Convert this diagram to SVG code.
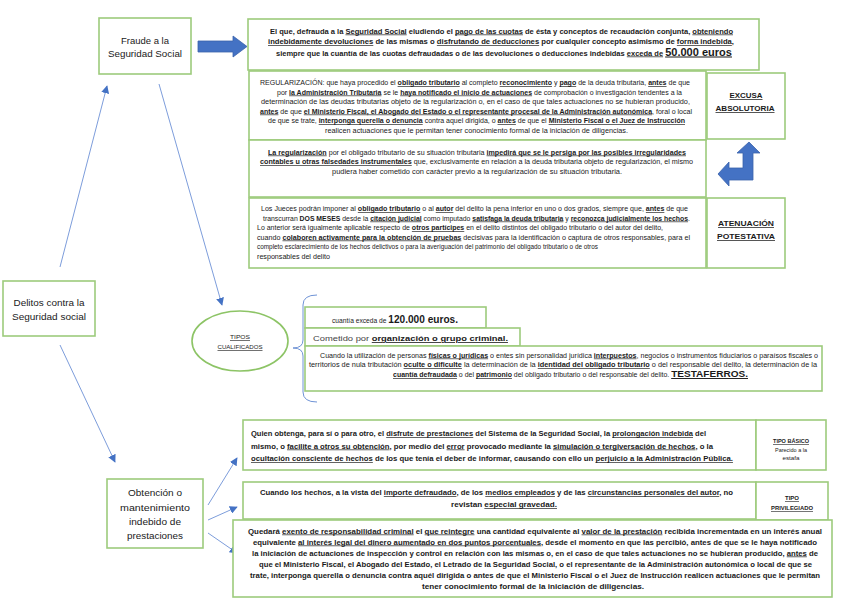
<svg xmlns="http://www.w3.org/2000/svg" width="848" height="599" viewBox="0 0 848 599">
<defs>
<style>
.box{fill:#fff;stroke:#9DCB7C;stroke-width:1.6}
.n{font-family:"Liberation Sans",Arial,sans-serif;font-size:9.5px;fill:#1a1a1a;text-anchor:middle}
.t{font-family:"Liberation Sans",Arial,sans-serif;font-size:6.6px;fill:#1a1a1a}
.tb{font-family:"Liberation Sans",Arial,sans-serif;font-size:6.8px;fill:#1a1a1a;font-weight:bold}
.c{text-anchor:middle}
.b{font-weight:bold}
.u{text-decoration:underline}
.lab{font-family:"Liberation Sans",Arial,sans-serif;font-size:7.4px;font-weight:bold;text-decoration:underline;fill:#1a1a1a;text-anchor:middle}
.con{stroke:#7D9DDB;stroke-width:1;fill:none}
.blk{fill:#4472C4;stroke:#3A62AB;stroke-width:0.8}
</style>
<marker id="ah" viewBox="0 0 10 10" refX="9" refY="5" markerWidth="8" markerHeight="8" orient="auto" markerUnits="userSpaceOnUse">
<path d="M0,0 L10,5 L0,10 z" fill="#4472C4"/>
</marker>
</defs>
<rect width="848" height="599" fill="#fff"/>

<g id="connectors">
<line class="con" x1="60" y1="267" x2="107" y2="86" marker-end="url(#ah)"/>
<line class="con" x1="159" y1="84" x2="222" y2="305" marker-end="url(#ah)"/>
<line class="con" x1="60" y1="345" x2="115" y2="462" marker-end="url(#ah)"/>
<line class="con" x1="208" y1="505" x2="237" y2="458" marker-end="url(#ah)"/>
<line class="con" x1="208" y1="520" x2="237" y2="507" marker-end="url(#ah)"/>
<line class="con" x1="208" y1="533" x2="237" y2="553" marker-end="url(#ah)"/>
<path d="M317,295 Q303,295 303,305 L303,340 Q303,348 293,348 Q303,348 303,356 L303,392 Q303,402 317,402" stroke="#6F93D6" stroke-width="1" fill="none"/>
<path class="blk" d="M198,41 L233,41 L233,36 L247,46.5 L233,57 L233,52 L198,52 z"/>
<path class="blk" d="M749,142 L760,153 L753,153 L753,180 L729,180 L729,186 L718,174 L729,162 L729,168 L743,168 L743,153 L737,153 z"/>
</g>

<g id="delitos">
<rect class="box" x="3" y="281" width="92" height="55"/>
<text class="n" x="49" y="306" textLength="71" lengthAdjust="spacingAndGlyphs">Delitos contra la</text>
<text class="n" x="49" y="320" textLength="74" lengthAdjust="spacingAndGlyphs">Seguridad social</text>
</g>

<g id="fraude">
<rect class="box" x="99" y="18" width="92" height="56"/>
<text class="n" x="145" y="44" textLength="48" lengthAdjust="spacingAndGlyphs">Fraude a la</text>
<text class="n" x="145" y="57" textLength="74" lengthAdjust="spacingAndGlyphs">Seguridad Social</text>
</g>

<g id="obtencion">
<rect class="box" x="107" y="479" width="96" height="69"/>
<text class="n" x="155" y="496" textLength="54" lengthAdjust="spacingAndGlyphs">Obtención o</text>
<text class="n" x="155" y="510.5" textLength="70" lengthAdjust="spacingAndGlyphs">mantenimiento</text>
<text class="n" x="155" y="524.5" textLength="52" lengthAdjust="spacingAndGlyphs">indebido de</text>
<text class="n" x="155" y="538.5" textLength="56" lengthAdjust="spacingAndGlyphs">prestaciones</text>
</g>

<g id="fraude-def">
<rect class="box" x="248" y="19" width="511" height="51"/>
<text class="tb" x="270" y="33.5" textLength="463" lengthAdjust="spacingAndGlyphs">El que, defrauda a la <tspan class="u">Seguridad Social</tspan> eludiendo el <tspan class="u">pago de las cuotas</tspan> de ésta y conceptos de recaudación conjunta, <tspan class="u">obteniendo</tspan></text>
<text class="tb" x="268" y="44" textLength="466" lengthAdjust="spacingAndGlyphs"><tspan class="u">indebidamente devoluciones</tspan> de las mismas o <tspan class="u">disfrutando de deducciones</tspan> por cualquier concepto asimismo de <tspan class="u">forma indebida</tspan>,</text>
<text class="tb" x="276" y="55.5" textLength="456" lengthAdjust="spacingAndGlyphs">siempre que la cuantía de las cuotas defraudadas o de las devoluciones o deducciones indebidas <tspan class="u">exceda de</tspan> <tspan class="u" style="font-size:10px">50.000 euros</tspan></text>
</g>

<g id="regularizacion">
<rect class="box" x="249" y="71" width="457" height="69"/>
<text class="t" x="260" y="85" textLength="430" lengthAdjust="spacingAndGlyphs">REGULARIZACIÓN: que haya procedido el <tspan class="b u">obligado tributario</tspan> al completo <tspan class="b u">reconocimiento</tspan> y <tspan class="b u">pago</tspan> de la deuda tributaria, <tspan class="b u">antes</tspan> de que</text>
<text class="t" x="277" y="94.5" textLength="405" lengthAdjust="spacingAndGlyphs">por <tspan class="b u">la Administración Tributaria</tspan> se le <tspan class="b u">haya notificado el inicio de actuaciones</tspan> de comprobación o investigación tendentes a la</text>
<text class="t" x="261" y="104" textLength="429" lengthAdjust="spacingAndGlyphs">determinación de las deudas tributarias objeto de la regularización o, en el caso de que tales actuaciones no se hubieran producido,</text>
<text class="t" x="260" y="113.5" textLength="432" lengthAdjust="spacingAndGlyphs"><tspan class="b u">antes</tspan> de que <tspan class="b u">el Ministerio Fiscal, el Abogado del Estado o el representante procesal de la Administración autonómica</tspan>, foral o local</text>
<text class="t" x="268" y="123" textLength="417" lengthAdjust="spacingAndGlyphs">de que se trate, <tspan class="b u">interponga querella o denuncia</tspan> contra aquel dirigida, o <tspan class="b u">antes</tspan> de que el <tspan class="b u">Ministerio Fiscal o el Juez de Instrucción</tspan></text>
<text class="t" x="325" y="132.5" textLength="303" lengthAdjust="spacingAndGlyphs">realicen actuaciones que le permitan tener conocimiento formal de la iniciación de diligencias.</text>
</g>

<g id="excusa">
<rect class="box" x="707" y="73" width="78" height="66"/>
<text class="lab" x="746" y="98" textLength="33" lengthAdjust="spacingAndGlyphs">EXCUSA</text>
<text class="lab" x="745" y="111" textLength="59" lengthAdjust="spacingAndGlyphs">ABSOLUTORIA</text>
</g>

<g id="regularizacion2">
<rect class="box" x="249" y="140" width="457" height="57"/>
<text class="t" x="268" y="154.5" textLength="418" lengthAdjust="spacingAndGlyphs"><tspan class="b u">La regularización</tspan> por el obligado tributario de su situación tributaria <tspan class="b u">impedirá que se le persiga por las posibles irregularidades</tspan></text>
<text class="t" x="260" y="164" textLength="433" lengthAdjust="spacingAndGlyphs"><tspan class="b u">contables u otras falsedades instrumentales</tspan> que, exclusivamente en relación a la deuda tributaria objeto de regularización, el mismo</text>
<text class="t" x="332" y="173.5" textLength="290" lengthAdjust="spacingAndGlyphs">pudiera haber cometido con carácter previo a la regularización de su situación tributaria.</text>
</g>

<g id="jueces">
<rect class="box" x="249" y="198" width="457" height="70"/>
<text class="t" x="261" y="211" textLength="427" lengthAdjust="spacingAndGlyphs">Los Jueces podrán imponer al <tspan class="b u">obligado tributario</tspan> o al <tspan class="b u">autor</tspan> del delito la pena inferior en uno o dos grados, siempre que, <tspan class="b u">antes</tspan> de que</text>
<text class="t" x="263" y="220.5" textLength="427" lengthAdjust="spacingAndGlyphs">transcurran <tspan class="b">DOS MESES</tspan> desde la <tspan class="b u">citación judicial</tspan> como imputado <tspan class="b u">satisfaga la deuda tributaria</tspan> y <tspan class="b u">reconozca judicialmente los hechos</tspan>.</text>
<text class="t" x="257" y="230" textLength="406" lengthAdjust="spacingAndGlyphs">Lo anterior será igualmente aplicable respecto de <tspan class="b u">otros partícipes</tspan> en el delito distintos del obligado tributario o del autor del delito,</text>
<text class="t" x="257" y="239.5" textLength="433" lengthAdjust="spacingAndGlyphs">cuando <tspan class="b u">colaboren activamente para la obtención de pruebas</tspan> decisivas para la identificación o captura de otros responsables, para el</text>
<text class="t" x="257" y="249" textLength="341" lengthAdjust="spacingAndGlyphs">completo esclarecimiento de los hechos delictivos o para la averiguación del patrimonio del obligado tributario o de otros</text>
<text class="t" x="257" y="258.5" textLength="73" lengthAdjust="spacingAndGlyphs">responsables del delito</text>
</g>

<g id="atenuacion">
<rect class="box" x="707" y="198" width="78" height="70"/>
<text class="lab" x="746" y="226" textLength="56" lengthAdjust="spacingAndGlyphs">ATENUACIÓN</text>
<text class="lab" x="746" y="239" textLength="58" lengthAdjust="spacingAndGlyphs">POTESTATIVA</text>
</g>

<g id="tipos">
<ellipse cx="240" cy="341" rx="48" ry="30" fill="#fff" stroke="#8DC466" stroke-width="1.6"/>
<text class="t c u" x="240" y="339" style="font-size:6.2px" textLength="20" lengthAdjust="spacingAndGlyphs">TIPOS</text>
<text class="t c u" x="240" y="349" style="font-size:6.2px" textLength="45" lengthAdjust="spacingAndGlyphs">CUALIFICADOS</text>
</g>

<g id="cuantia">
<rect class="box" x="305" y="307" width="181" height="21"/>
<text class="t" x="332" y="323" textLength="126" lengthAdjust="spacingAndGlyphs">cuantía exceda de <tspan class="b" style="font-size:10px">120.000 euros.</tspan></text>
</g>

<g id="organizacion">
<rect class="box" x="305" y="328" width="215" height="18"/>
<text class="t" x="313" y="341" style="font-size:8px;fill:#444" textLength="195" lengthAdjust="spacingAndGlyphs">Cometido por <tspan class="b u" style="fill:#1a1a1a">organización o grupo criminal.</tspan></text>
</g>

<g id="testaferros">
<rect class="box" x="305" y="346" width="517" height="45"/>
<text class="t" x="320" y="357.5" textLength="498" lengthAdjust="spacingAndGlyphs">Cuando la utilización de personas <tspan class="b u">físicas o jurídicas</tspan> o entes sin personalidad jurídica <tspan class="b u">interpuestos</tspan>, negocios o instrumentos fiduciarios o paraísos fiscales o</text>
<text class="t" x="309" y="367" textLength="508" lengthAdjust="spacingAndGlyphs">territorios de nula tributación <tspan class="b u">oculte o dificulte</tspan> la determinación de la <tspan class="b u">identidad del obligado tributario</tspan> o del responsable del delito, la determinación de la</text>
<text class="t" x="393" y="377" textLength="355" lengthAdjust="spacingAndGlyphs"><tspan class="b u">cuantía defraudada</tspan> o del <tspan class="b u">patrimonio</tspan> del obligado tributario o del responsable del delito. <tspan class="b u" style="font-size:9.5px">TESTAFERROS.</tspan></text>
</g>

<g id="basico">
<rect class="box" x="243" y="420" width="513" height="50"/>
<text class="tb" x="251" y="436" textLength="455" lengthAdjust="spacingAndGlyphs">Quien obtenga, para sí o para otro, el <tspan class="u">disfrute de prestaciones</tspan> del Sistema de la Seguridad Social, la <tspan class="u">prolongación indebida</tspan> del</text>
<text class="tb" x="251" y="448.5" textLength="462" lengthAdjust="spacingAndGlyphs">mismo, o <tspan class="u">facilite a otros su obtención</tspan>, por medio del <tspan class="u">error</tspan> provocado mediante la <tspan class="u">simulación o tergiversación de hechos</tspan>, o la</text>
<text class="tb" x="251" y="461" textLength="482" lengthAdjust="spacingAndGlyphs"><tspan class="u">ocultación consciente de hechos</tspan> de los que tenía el deber de informar, causando con ello un <tspan class="u">perjuicio a la Administración Pública.</tspan></text>
</g>

<g id="tipo-basico">
<rect class="box" x="756" y="420" width="70" height="50"/>
<text class="t c b u" x="791" y="443" style="font-size:6px" textLength="36" lengthAdjust="spacingAndGlyphs">TIPO BÁSICO</text>
<text class="t c" x="791" y="451.5" style="font-size:6px" textLength="32" lengthAdjust="spacingAndGlyphs">Parecido a la</text>
<text class="t c" x="791" y="460" style="font-size:6px" textLength="17" lengthAdjust="spacingAndGlyphs">estafa</text>
</g>

<g id="privilegiado">
<rect class="box" x="243" y="482" width="513" height="37"/>
<text class="tb" x="260" y="495" textLength="473" lengthAdjust="spacingAndGlyphs">Cuando los hechos, a la vista del <tspan class="u">importe defraudado</tspan>, de los <tspan class="u">medios empleados</tspan> y de las <tspan class="u">circunstancias personales del autor</tspan>, no</text>
<text class="tb" x="451" y="507" textLength="106" lengthAdjust="spacingAndGlyphs">revistan <tspan class="u">especial gravedad.</tspan></text>
</g>

<g id="tipo-privilegiado">
<rect class="box" x="756" y="482" width="72" height="38"/>
<text class="t c b u" x="792" y="500" style="font-size:6px" textLength="14" lengthAdjust="spacingAndGlyphs">TIPO</text>
<text class="t c b u" x="792" y="510" style="font-size:6px" textLength="42" lengthAdjust="spacingAndGlyphs">PRIVILEGIADO</text>
</g>

<g id="reintegro">
<rect class="box" x="233" y="520" width="599" height="77"/>
<text class="tb" x="248" y="533.5" textLength="574" lengthAdjust="spacingAndGlyphs">Quedará <tspan class="u">exento de responsabilidad criminal</tspan> el <tspan class="u">que reintegre</tspan> una cantidad equivalente al <tspan class="u">valor de la prestación</tspan> recibida incrementada en un interés anual</text>
<text class="tb" x="253" y="544.5" textLength="564" lengthAdjust="spacingAndGlyphs">equivalente <tspan class="u">al interés legal del dinero aumentado en dos puntos porcentuales</tspan>, desde el momento en que las percibió, antes de que se le haya notificado</text>
<text class="tb" x="252" y="555.5" textLength="566" lengthAdjust="spacingAndGlyphs">la iniciación de actuaciones de inspección y control en relación con las mismas o, en el caso de que tales actuaciones no se hubieran producido, <tspan class="u">antes</tspan> de</text>
<text class="tb" x="259" y="566.5" textLength="553" lengthAdjust="spacingAndGlyphs">que el Ministerio Fiscal, el Abogado del Estado, el Letrado de la Seguridad Social, o el representante de la Administración autonómica o local de que se</text>
<text class="tb" x="250" y="577.5" textLength="570" lengthAdjust="spacingAndGlyphs">trate, interponga querella o denuncia contra aquél dirigida o antes de que el Ministerio Fiscal o el Juez de Instrucción realicen actuaciones que le permitan</text>
<text class="tb" x="422" y="588.5" textLength="222" lengthAdjust="spacingAndGlyphs">tener conocimiento formal de la iniciación de diligencias.</text>
</g>
</svg>
